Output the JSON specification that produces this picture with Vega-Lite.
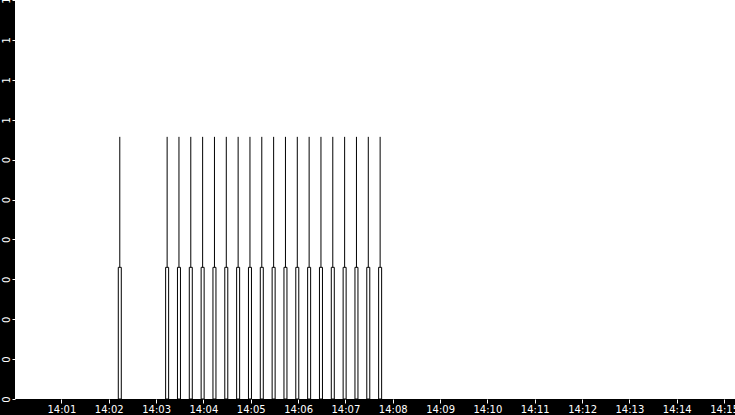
{
  "$schema": "https://vega.github.io/schema/vega-lite/v6.json",
  "width": 720,
  "height": 399,
  "autosize": "none",
  "padding": {"left": 15, "top": 0, "right": 0, "bottom": 16},
  "background": "black",
  "config": {
    "view": {"fill": "white", "stroke": null},
    "axis": {
      "labelColor": "white",
      "tickColor": "white",
      "domain": false,
      "grid": false,
      "title": null,
      "labelFont": "DejaVu Sans",
      "labelFontSize": 10,
      "tickSize": 4
    }
  },
  "data": {
    "values": [
      {"t": "2024-01-01T14:02:14Z", "lo": 0.33, "hi": 0.657},
      {"t": "2024-01-01T14:03:14Z", "lo": 0.33, "hi": 0.657},
      {"t": "2024-01-01T14:03:29Z", "lo": 0.33, "hi": 0.657},
      {"t": "2024-01-01T14:03:44Z", "lo": 0.33, "hi": 0.657},
      {"t": "2024-01-01T14:03:59Z", "lo": 0.33, "hi": 0.657},
      {"t": "2024-01-01T14:04:14Z", "lo": 0.33, "hi": 0.657},
      {"t": "2024-01-01T14:04:29Z", "lo": 0.33, "hi": 0.657},
      {"t": "2024-01-01T14:04:44Z", "lo": 0.33, "hi": 0.657},
      {"t": "2024-01-01T14:04:59Z", "lo": 0.33, "hi": 0.657},
      {"t": "2024-01-01T14:05:14Z", "lo": 0.33, "hi": 0.657},
      {"t": "2024-01-01T14:05:29Z", "lo": 0.33, "hi": 0.657},
      {"t": "2024-01-01T14:05:44Z", "lo": 0.33, "hi": 0.657},
      {"t": "2024-01-01T14:05:59Z", "lo": 0.33, "hi": 0.657},
      {"t": "2024-01-01T14:06:14Z", "lo": 0.33, "hi": 0.657},
      {"t": "2024-01-01T14:06:29Z", "lo": 0.33, "hi": 0.657},
      {"t": "2024-01-01T14:06:44Z", "lo": 0.33, "hi": 0.657},
      {"t": "2024-01-01T14:06:59Z", "lo": 0.33, "hi": 0.657},
      {"t": "2024-01-01T14:07:14Z", "lo": 0.33, "hi": 0.657},
      {"t": "2024-01-01T14:07:29Z", "lo": 0.33, "hi": 0.657},
      {"t": "2024-01-01T14:07:44Z", "lo": 0.33, "hi": 0.657}
    ]
  },
  "encoding": {
    "x": {
      "field": "t",
      "type": "temporal",
      "scale": {"domain": [1704117607500, 1704118507500]},
      "axis": {
        "labelExpr": "utcFormat(datum.value, '%H:%M')",
        "values": [
          1704117660000, 1704117720000, 1704117780000, 1704117840000, 1704117900000,
          1704117960000, 1704118020000, 1704118080000, 1704118140000, 1704118200000,
          1704118260000, 1704118320000, 1704118380000, 1704118440000, 1704118500000
        ],
        "labelOverlap": false,
        "labelFlush": false,
        "labelBound": false,
        "labelPadding": 1
      }
    },
    "y": {
      "field": "lo",
      "type": "quantitative",
      "scale": {"domain": [0, 1], "nice": false},
      "axis": {
        "values": [0, 0.1, 0.2, 0.3, 0.4, 0.5, 0.6, 0.7, 0.8, 0.9, 1],
        "labelExpr": "datum.value >= 0.65 ? '1' : '0'",
        "labelAngle": -90,
        "labelAlign": "center",
        "labelBaseline": "bottom",
        "tickSize": 3,
        "labelPadding": 1,
        "labelFontSize": 10,
        "labelOverlap": false,
        "labelFlush": false,
        "labelBound": false
      }
    }
  },
  "layer": [
    {
      "mark": {"type": "rule", "color": "black", "strokeWidth": 1},
      "encoding": {"y2": {"field": "hi"}}
    },
    {
      "mark": {"type": "bar", "fill": "white", "stroke": "black", "strokeWidth": 1, "width": 3},
      "encoding": {"y2": {"datum": 0}}
    }
  ]
}
